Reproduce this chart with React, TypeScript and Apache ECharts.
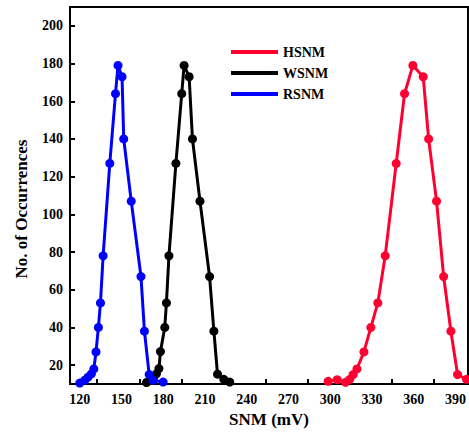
import React, { useEffect, useRef } from "react";
import * as echarts from "echarts";

const seriesNames = ["HSNM", "WSNM", "RSNM"];
const seriesColors = ["#FF0030", "#000000", "#0000FF"];

const hsnmX = [298.5, 305, 311, 314, 316.5, 319.2, 324.2, 329.2, 334.2, 339.5, 347.4, 353.4, 359.4, 366.8, 370.7, 376.4, 381.5, 386.7, 391.5, 397.9];
const hsnmY = [11.4, 12.3, 10.9, 12.5, 15, 18, 27, 40, 53, 78, 127, 164, 179, 173, 140, 107, 67, 38, 15, 12.5];

const wsnmX = [168, 171.5, 173.2, 175.1, 176.9, 178, 181.1, 182.3, 184.1, 189.1, 193.3, 195, 198.6, 201, 206.4, 213.3, 216.4, 219, 223.5, 227.8];
const wsnmY = [10.8, 12, 13.7, 15.4, 18.2, 27.2, 40, 53, 78, 127, 164, 179, 173, 140, 107, 67, 38, 15.2, 12.5, 11];

const rsnmX = [120, 123.6, 126, 128.4, 130.1, 131.7, 133.4, 134.9, 136.8, 141.6, 145.7, 147.5, 150.4, 151.6, 157, 164, 166.5, 169.9, 172.7, 179.9];
const rsnmY = [10.5, 12, 13.7, 15.4, 18, 27, 40, 53, 78, 127, 164, 179, 173, 140, 107, 67, 38, 15, 12, 11];

const xLabelValues = [120, 150, 180, 210, 240, 270, 300, 330, 360, 390];
const xTickValues = [132, 163, 193, 223.5, 254, 284, 314, 344, 374.5];
const yValues = [20, 40, 60, 80, 100, 120, 140, 160, 180, 200];

const FONT = "'Liberation Serif', 'Times New Roman', serif";

function pairs(xs: number[], ys: number[]) {
  return xs.map((x, i) => [x, ys[i]]);
}

export default function App() {
  const ref = useRef<HTMLDivElement>(null);
  useEffect(() => {
    if (!ref.current) return;
    const chart = echarts.init(ref.current, null, { renderer: "svg" });
    const allData = [pairs(hsnmX, hsnmY), pairs(wsnmX, wsnmY), pairs(rsnmX, rsnmY)];
    chart.setOption({
      animation: false,
      backgroundColor: "#ffffff",
      grid: {
        left: 70,
        top: 7,
        right: 1,
        bottom: 47,
        show: true,
        borderColor: "#000",
        borderWidth: 2,
        backgroundColor: "transparent",
      },
      legend: {
        orient: "vertical",
        left: 226,
        top: 40,
        icon: "rect",
        itemWidth: 47,
        itemHeight: 4,
        itemGap: 7,
        data: seriesNames,
        textStyle: {
          fontFamily: FONT,
          fontWeight: "bold",
          fontSize: 14,
          color: "#000",
          lineHeight: 14,
        },
      },
      xAxis: {
        type: "value",
        min: 113,
        max: 399,
        name: "SNM (mV)",
        nameLocation: "middle",
        nameGap: 27,
        nameTextStyle: { fontFamily: FONT, fontWeight: "bold", fontSize: 17, color: "#000" },
        axisLine: { show: true, lineStyle: { color: "#000", width: 2 } },
        axisTick: { show: true, inside: true, length: 5, customValues: xTickValues, lineStyle: { color: "#000", width: 2 } },
        axisLabel: { customValues: xLabelValues, margin: 8, fontFamily: FONT, fontWeight: "bold", fontSize: 14, color: "#000" },
        splitLine: { show: false },
      },
      yAxis: {
        type: "value",
        min: 10,
        max: 210,
        axisLine: { show: true, lineStyle: { color: "#000", width: 2 } },
        axisTick: { show: true, inside: true, length: 5, customValues: yValues, lineStyle: { color: "#000", width: 2 } },
        axisLabel: { customValues: yValues, margin: 7, fontFamily: FONT, fontWeight: "bold", fontSize: 14, color: "#000" },
        splitLine: { show: false },
      },
      graphic: [
        {
          type: "text",
          x: 21,
          y: 209,
          rotation: Math.PI / 2,
          style: {
            text: "No. of Occurrences",
            fontFamily: FONT,
            fontWeight: "bold",
            fontSize: 17,
            fill: "#000",
            align: "center",
            verticalAlign: "middle",
          },
        },
      ],
      series: seriesNames.map((name, i) => ({
        name,
        type: "line",
        data: allData[i],
        symbol: "circle",
        symbolSize: 9,
        showAllSymbol: true,
        lineStyle: { color: seriesColors[i], width: 3 },
        itemStyle: { color: seriesColors[i] },
      })),
    });
    return () => chart.dispose();
  }, []);
  return (
    <div
      ref={ref}
      style={{ position: "fixed", left: 0, top: 0, width: 469, height: 433 }}
    />
  );
}
